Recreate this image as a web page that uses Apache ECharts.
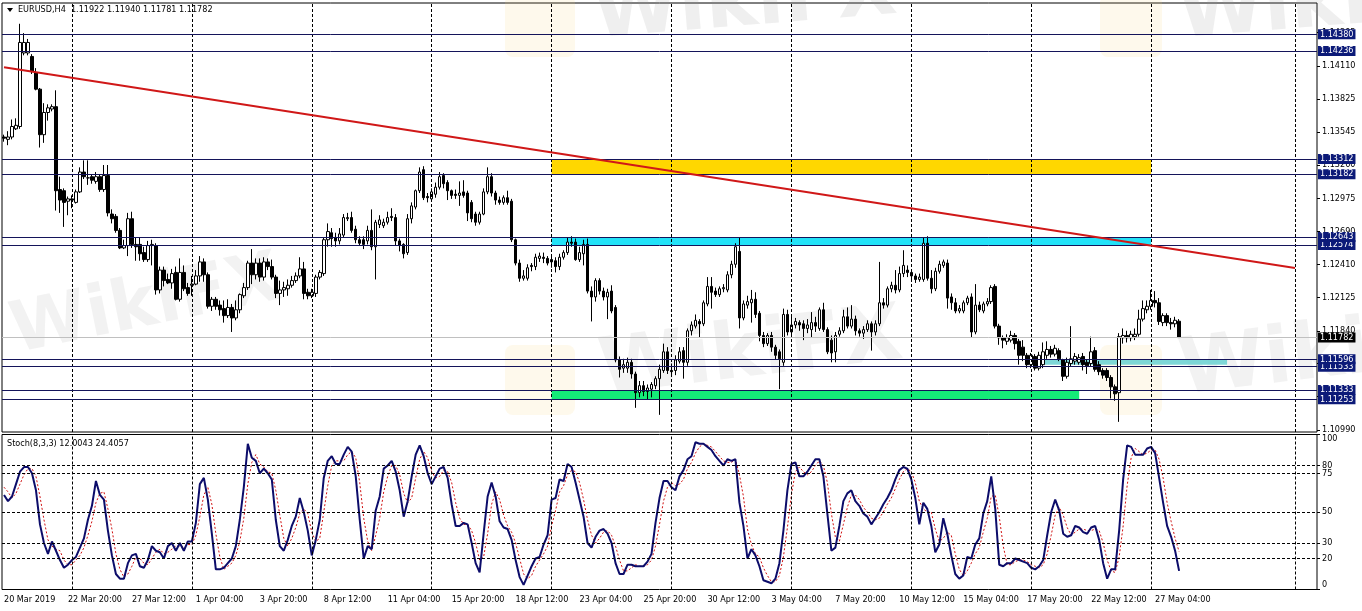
<!DOCTYPE html>
<html><head><meta charset="utf-8">
<script src="https://cdn.jsdelivr.net/npm/echarts@6/dist/echarts.min.js"></script>
<style>html,body{margin:0;padding:0;background:#fff}#c{width:1362px;height:611px}</style>
</head><body><div id="c"></div><script>
const FONT = "'DejaVu Sans Condensed','DejaVu Sans',sans-serif";

// ---------- DATA ----------
const timeLabels = ["20 Mar 2019","22 Mar 20:00","27 Mar 12:00","1 Apr 04:00","3 Apr 20:00","8 Apr 12:00","11 Apr 04:00","15 Apr 20:00","18 Apr 12:00","23 Apr 04:00","25 Apr 20:00","30 Apr 12:00","3 May 04:00","7 May 20:00","10 May 12:00","15 May 04:00","17 May 20:00","22 May 12:00","27 May 04:00"];
const barsPerLabel = 16;
const totalSlots = 329;

const openP = [1.1350,1.1348,1.1350,1.1357,1.1359,1.1422,1.1422,1.1419,1.1405,1.1391,
1.1352,1.1371,1.1374,1.1376,1.1305,1.1304,1.1295,1.1297,1.1294,1.1303,
1.1320,1.1315,1.1316,1.1312,1.1316,1.1305,1.1317,1.1284,1.1282,1.1270,
1.1255,1.1257,1.1280,1.1258,1.1258,1.1251,1.1245,1.1257,1.1257,1.1219,
1.1236,1.1228,1.1225,1.1234,1.1211,1.1234,1.1221,1.1223,1.1224,1.1231,
1.1243,1.1232,1.1205,1.1211,1.1206,1.1203,1.1197,1.1204,1.1195,1.1202,
1.1214,1.1221,1.1242,1.1232,1.1242,1.1230,1.1243,1.1239,1.1230,1.1216,
1.1219,1.1220,1.1223,1.1227,1.1231,1.1237,1.1217,1.1214,1.1216,1.1230,
1.1233,1.1262,1.1268,1.1264,1.1261,1.1266,1.1280,1.1281,1.1271,1.1262,
1.1262,1.1261,1.1270,1.1256,1.1275,1.1274,1.1277,1.1282,1.1281,1.1261,
1.1258,1.1251,1.1280,1.1290,1.1304,1.1322,1.1299,1.1297,1.1301,1.1307,
1.1317,1.1311,1.1304,1.1301,1.1300,1.1303,1.1302,1.1294,1.1284,1.1277,
1.1284,1.1303,1.1316,1.1302,1.1296,1.1294,1.1298,1.1295,1.1262,1.1242,
1.1229,1.1229,1.1240,1.1239,1.1246,1.1247,1.1246,1.1245,1.1244,1.1239,
1.1247,1.1251,1.1260,1.1260,1.1245,1.1250,1.1258,1.1218,1.1213,1.1227,
1.1218,1.1213,1.1218,1.1204,1.1159,1.1152,1.1152,1.1157,1.1147,1.1131,
1.1137,1.1132,1.1134,1.1137,1.1143,1.1150,1.1166,1.1150,1.1150,1.1158,
1.1167,1.1157,1.1184,1.1188,1.1192,1.1190,1.1207,1.1222,1.1218,1.1215,
1.1220,1.1219,1.1232,1.1241,1.1252,1.1195,1.1206,1.1208,1.1211,1.1199,
1.1180,1.1173,1.1180,1.1170,1.1166,1.1157,1.1198,1.1183,1.1189,1.1191,
1.1190,1.1186,1.1185,1.1191,1.1186,1.1202,1.1185,1.1176,1.1166,1.1181,
1.1184,1.1196,1.1188,1.1194,1.1184,1.1182,1.1185,1.1190,1.1183,1.1190,
1.1208,1.1206,1.1220,1.1223,1.1219,1.1233,1.1236,1.1234,1.1231,1.1228,
1.1228,1.1259,1.1229,1.1220,1.1235,1.1240,1.1242,1.1213,1.1208,1.1201,
1.1201,1.1208,1.1213,1.1183,1.1206,1.1201,1.1207,1.1209,1.1222,1.1188,
1.1178,1.1175,1.1176,1.1180,1.1175,1.1170,1.1163,1.1155,1.1162,1.1152,
1.1155,1.1163,1.1168,1.1164,1.1167,1.1159,1.1145,1.1156,1.1158,1.1157,
1.1162,1.1157,1.1156,1.1167,1.1155,1.1150,1.1150,1.1144,1.1136,1.1131,
1.1178,1.1180,1.1178,1.1179,1.1181,1.1194,1.1202,1.1205,1.1210,1.1208,
1.1191,1.1197,1.1191,1.1190,1.11922];

const closeP = [1.1349,1.1350,1.1359,1.1360,1.1431,1.1431,1.1431,1.1406,1.1391,1.1352,
1.1371,1.1375,1.1376,1.1304,1.1296,1.1294,1.1297,1.1296,1.1303,1.1320,
1.1316,1.1315,1.1313,1.1316,1.1305,1.1317,1.1285,1.1280,1.1270,1.1255,
1.1257,1.1280,1.1258,1.1256,1.1250,1.1245,1.1257,1.1258,1.1219,1.1236,
1.1227,1.1225,1.1233,1.1211,1.1234,1.1220,1.1216,1.1224,1.1231,1.1243,
1.1232,1.1205,1.1211,1.1205,1.1202,1.1197,1.1204,1.1195,1.1202,1.1215,
1.1221,1.1242,1.1232,1.1242,1.1230,1.1243,1.1239,1.1230,1.1216,1.1219,
1.1221,1.1223,1.1227,1.1231,1.1237,1.1216,1.1214,1.1217,1.1230,1.1234,
1.1262,1.1269,1.1263,1.1261,1.1267,1.1281,1.1281,1.1270,1.1262,1.1259,
1.1258,1.1270,1.1256,1.1277,1.1279,1.1277,1.1281,1.1281,1.1261,1.1257,
1.1250,1.1280,1.1291,1.1304,1.1320,1.1298,1.1298,1.1303,1.1307,1.1316,
1.1310,1.1304,1.1300,1.1300,1.1302,1.1300,1.1285,1.1280,1.1277,1.1284,
1.1303,1.1316,1.1302,1.1296,1.1294,1.1298,1.1294,1.1262,1.1242,1.1229,
1.1231,1.1238,1.1239,1.1247,1.1248,1.1246,1.1242,1.1243,1.1239,1.1247,
1.1251,1.1260,1.1259,1.1245,1.1251,1.1258,1.1218,1.1213,1.1227,1.1218,
1.1213,1.1217,1.1201,1.1159,1.1151,1.1155,1.1157,1.1147,1.1131,1.1137,
1.1132,1.1135,1.1138,1.1143,1.1151,1.1166,1.1150,1.1149,1.1159,1.1166,
1.1157,1.1184,1.1189,1.1193,1.1190,1.1208,1.1222,1.1217,1.1215,1.1220,
1.1221,1.1232,1.1241,1.1256,1.1195,1.1207,1.1209,1.1211,1.1198,1.1180,
1.1173,1.1180,1.1170,1.1163,1.1160,1.1198,1.1183,1.1189,1.1192,1.1189,
1.1186,1.1189,1.1191,1.1188,1.1202,1.1185,1.1166,1.1165,1.1180,1.1184,
1.1196,1.1188,1.1194,1.1184,1.1182,1.1185,1.1190,1.1183,1.1190,1.1208,
1.1206,1.1220,1.1223,1.1219,1.1233,1.1240,1.1234,1.1231,1.1228,1.1230,
1.1259,1.1229,1.1220,1.1235,1.1241,1.1243,1.1212,1.1208,1.1201,1.1203,
1.1208,1.1212,1.1183,1.1206,1.1202,1.1207,1.1209,1.1221,1.1188,1.1178,
1.1176,1.1178,1.1180,1.1173,1.1163,1.1163,1.1155,1.1163,1.1152,1.1163,
1.1166,1.1168,1.1164,1.1169,1.1160,1.1145,1.1157,1.1160,1.1162,1.1161,
1.1155,1.1154,1.1166,1.1151,1.1149,1.1146,1.1144,1.1136,1.1130,1.1179,
1.1180,1.1178,1.1181,1.1181,1.1194,1.1203,1.1205,1.1210,1.1208,1.1192,
1.1197,1.1191,1.1190,1.1193,1.11782];

const lowP = [1.1346,1.1343,1.1348,1.1356,1.1357,1.1420,1.1420,1.1404,1.1390,1.1341,
1.1345,1.1364,1.1372,1.1287,1.1285,1.1273,1.1283,1.1289,1.1293,1.1302,
1.1314,1.1309,1.1310,1.1310,1.1303,1.1303,1.1282,1.1276,1.1268,1.1254,
1.1254,1.1248,1.1255,1.1244,1.1244,1.1243,1.1243,1.1240,1.1215,1.1216,
1.1222,1.1224,1.1220,1.1210,1.1209,1.1218,1.1214,1.1214,1.1223,1.1226,
1.1226,1.1203,1.1201,1.1202,1.1197,1.1191,1.1195,1.1183,1.1193,1.1199,
1.1212,1.1219,1.1224,1.1228,1.1226,1.1227,1.1236,1.1228,1.1212,1.1206,
1.1213,1.1214,1.1221,1.1225,1.1229,1.1211,1.1211,1.1212,1.1213,1.1228,
1.1231,1.1256,1.1256,1.1256,1.1258,1.1264,1.1278,1.1268,1.1259,1.1257,
1.1254,1.1258,1.1253,1.1228,1.1272,1.1272,1.1275,1.1278,1.1257,1.1252,
1.1246,1.1249,1.1276,1.1288,1.1302,1.1296,1.1294,1.1295,1.1298,1.1305,
1.1306,1.1296,1.1297,1.1297,1.1291,1.1298,1.1278,1.1277,1.1274,1.1275,
1.1283,1.1301,1.1299,1.1292,1.1292,1.1292,1.1292,1.1260,1.1240,1.1226,
1.1227,1.1227,1.1235,1.1236,1.1243,1.1242,1.1240,1.1238,1.1234,1.1236,
1.1245,1.1249,1.1256,1.1244,1.1243,1.1240,1.1216,1.1192,1.1209,1.1215,
1.1210,1.1194,1.1199,1.1157,1.1144,1.1148,1.1148,1.1143,1.1118,1.1127,
1.1128,1.1125,1.1127,1.1134,1.1112,1.1148,1.1147,1.1146,1.1146,1.1156,
1.1143,1.1154,1.1180,1.1186,1.1178,1.1188,1.1205,1.1203,1.1213,1.1213,
1.1217,1.1217,1.1229,1.1238,1.1186,1.1193,1.1203,1.1191,1.1195,1.1175,
1.1170,1.1171,1.1166,1.1159,1.1134,1.1154,1.1180,1.1179,1.1186,1.1184,
1.1176,1.1182,1.1178,1.1183,1.1184,1.1183,1.1164,1.1157,1.1157,1.1179,
1.1182,1.1186,1.1186,1.1180,1.1179,1.1177,1.1183,1.1167,1.1180,1.1188,
1.1203,1.1204,1.1217,1.1216,1.1217,1.1230,1.1230,1.1228,1.1225,1.1226,
1.1226,1.1227,1.1216,1.1218,1.1233,1.1238,1.1203,1.1202,1.1199,1.1199,
1.1199,1.1206,1.1178,1.1181,1.1200,1.1199,1.1205,1.1207,1.1186,1.1172,
1.1169,1.1172,1.1174,1.1168,1.1155,1.1158,1.1152,1.1152,1.1150,1.1150,
1.1152,1.1160,1.1161,1.1162,1.1158,1.1141,1.1143,1.1153,1.1155,1.1155,
1.1150,1.1147,1.1153,1.1149,1.1146,1.1143,1.1141,1.1126,1.1124,1.1106,
1.1173,1.1174,1.1175,1.1176,1.1179,1.1192,1.1199,1.1202,1.1204,1.1189,
1.1188,1.1188,1.1185,1.1187,1.11781];

const highP = [1.1352,1.1355,1.1365,1.1366,1.1447,1.1439,1.1434,1.1421,1.1409,1.1392,
1.1379,1.1378,1.1378,1.1390,1.1316,1.1306,1.1299,1.1300,1.1305,1.1324,
1.1330,1.1330,1.1318,1.1320,1.1318,1.1326,1.1326,1.1288,1.1284,1.1272,
1.1262,1.1285,1.1286,1.1264,1.1264,1.1256,1.1261,1.1262,1.1259,1.1239,
1.1239,1.1233,1.1237,1.1239,1.1246,1.1240,1.1225,1.1231,1.1236,1.1248,
1.1246,1.1234,1.1213,1.1213,1.1210,1.1210,1.1211,1.1207,1.1210,1.1216,
1.1225,1.1244,1.1254,1.1246,1.1246,1.1247,1.1246,1.1245,1.1232,1.1227,
1.1226,1.1228,1.1231,1.1234,1.1247,1.1243,1.1220,1.1220,1.1232,1.1236,
1.1264,1.1276,1.1272,1.1268,1.1272,1.1284,1.1285,1.1286,1.1274,1.1265,
1.1265,1.1274,1.1288,1.1279,1.1283,1.1280,1.1286,1.1289,1.1284,1.1263,
1.1259,1.1284,1.1294,1.1305,1.1324,1.1325,1.1302,1.1306,1.1311,1.1320,
1.1319,1.1313,1.1305,1.1305,1.1312,1.1313,1.1304,1.1296,1.1286,1.1286,
1.1306,1.1324,1.1319,1.1304,1.1299,1.1300,1.1304,1.1297,1.1263,1.1245,
1.1236,1.1241,1.1242,1.1250,1.1251,1.1251,1.1248,1.1248,1.1247,1.1250,
1.1253,1.1264,1.1265,1.1263,1.1256,1.1262,1.1263,1.1222,1.1229,1.1229,
1.1221,1.1220,1.1223,1.1206,1.1162,1.1160,1.1161,1.1160,1.1149,1.1141,
1.1141,1.1138,1.1140,1.1145,1.1155,1.1173,1.1170,1.1156,1.1163,1.1170,
1.1170,1.1186,1.1192,1.1198,1.1194,1.1210,1.1230,1.1230,1.1221,1.1222,
1.1224,1.1235,1.1244,1.1259,1.1264,1.1210,1.1214,1.1219,1.1217,1.1201,
1.1183,1.1182,1.1183,1.1172,1.1168,1.1203,1.1202,1.1196,1.1195,1.1193,
1.1193,1.1194,1.1200,1.1196,1.1204,1.1208,1.1187,1.1180,1.1183,1.1187,
1.1202,1.1204,1.1206,1.1197,1.1186,1.1188,1.1193,1.1192,1.1193,1.1243,
1.1212,1.1222,1.1226,1.1236,1.1239,1.1253,1.1240,1.1236,1.1233,1.1233,
1.1264,1.1265,1.1236,1.1238,1.1244,1.1245,1.1245,1.1216,1.1212,1.1206,
1.1210,1.1214,1.1216,1.1224,1.1209,1.1209,1.1212,1.1223,1.1224,1.1190,
1.1180,1.1181,1.1184,1.1182,1.1177,1.1176,1.1165,1.1165,1.1164,1.1166,
1.1174,1.1175,1.1171,1.1172,1.1169,1.1160,1.1161,1.1188,1.1165,1.1164,
1.1165,1.1159,1.1179,1.1170,1.1158,1.1152,1.1152,1.1146,1.1138,1.1182,
1.1186,1.1184,1.1184,1.1186,1.1202,1.1210,1.1210,1.1219,1.1218,1.1212,
1.1199,1.1199,1.1195,1.1196,1.11940];

const stochK = [61,57,60,68,76,79,79,75,64,42,
30,23,31,25,19,14,16,19,21,27,
33,45,54,70,61,58,38,22,10,7,
7,17,22,23,15,14,19,28,25,24,
20,28,30,25,30,25,31,31,43,68,
72,58,36,13,13,14,17,20,28,45,
66,94,85,83,75,78,75,71,45,28,
25,32,41,47,59,50,38,22,32,45,
72,83,86,81,81,87,92,89,73,45,
20,28,26,51,60,78,80,83,76,64,
47,57,73,87,93,86,75,68,73,78,
79,72,55,41,41,43,42,30,17,11,
36,60,69,60,44,40,39,32,19,8,
3,9,15,20,21,29,35,58,59,71,
70,81,79,69,58,47,30,27,34,38,
39,36,30,17,10,10,16,16,15,15,
15,18,23,43,59,70,70,66,64,73,
77,84,86,95,94,94,92,90,86,83,
80,84,83,84,56,41,20,26,22,15,
6,5,4,7,17,38,64,81,82,73,
73,76,80,84,84,73,49,25,27,41,
57,62,64,57,54,49,47,42,46,50,
55,59,64,71,77,79,78,71,59,42,
56,52,41,24,29,46,36,22,10,7,
9,21,20,29,33,49,57,73,52,16,
15,17,17,20,19,18,17,14,13,15,
19,35,50,58,51,36,34,35,41,40,
37,36,40,41,32,17,7,13,13,38,
71,93,92,87,87,87,91,92,88,72,
56,41,34,25,12.0043];

const stochD = [66,63,59,62,68,74,78,78,73,60,
45,32,28,26,25,19,16,16,19,22,
27,35,44,56,62,63,52,39,23,13,
8,10,15,21,20,17,16,20,24,26,
23,24,26,28,28,27,29,29,35,47,
61,66,55,36,21,13,15,17,22,31,
46,68,82,87,81,79,76,75,64,48,
33,28,33,40,49,52,49,37,31,33,
50,67,80,83,83,83,87,89,85,69,
46,31,25,35,46,63,73,80,80,74,
62,56,59,72,84,89,85,76,72,73,
77,76,69,56,46,42,42,38,30,19,
21,36,55,63,58,48,41,37,30,20,
10,7,9,15,19,23,28,41,51,63,
67,74,77,76,69,58,45,35,30,33,
37,38,35,28,19,12,12,14,16,15,
15,16,19,28,42,57,66,69,67,68,
71,78,82,88,92,94,93,92,89,86,
83,82,82,84,74,60,39,29,23,21,
14,9,5,5,9,21,40,61,76,79,
76,74,76,80,83,80,69,49,34,31,
42,53,61,61,58,53,50,46,45,46,
50,55,59,65,71,76,78,76,69,57,
52,50,50,39,31,33,37,35,23,13,
9,12,17,23,27,37,46,60,61,47,
28,16,16,18,19,19,18,16,15,14,
16,23,35,48,53,48,40,35,37,39,
39,38,38,39,38,30,19,12,11,21,
41,67,85,91,89,87,88,90,90,84,
72,56,44,33,24.4057];

const priceTicks = [1.10990,1.11275,1.11560,1.11840,1.12125,1.12410,1.12690,1.12975,1.13260,1.13545,1.13825,1.14110,1.14395];
const stochTicks = [0,20,30,50,75,80,100];
const stochLevels = [20,30,50,75,80];
// drawn in this order (later on top)
const levelPrices = [1.14380,1.14236,1.13312,1.13182,1.12574,1.12643,1.11533,1.11596,1.11253,1.11333];
const lastPrice = 1.11782;
const weekBars = [17,47,77,107,137,167,197,227,257,287,323];
const trendLine = [[0,1.14098],[323,1.12378]];
const yellowZone = [[137,1.13312],[287,1.13182]];
const cyanZone = [[137,1.12643],[287,1.12574]];
const greenZone = [[137,1.11333],[269,1.11253]];
const tealZone = [[257,1.11596],[306,1.11550]];
const priceMin = 1.10973, priceMax = 1.14648;

// ---------- CHART ----------
const slots = Array.from({length: totalSlots}, (_, i) => String(i));
const candles = openP.map((o, i) => [o, closeP[i], lowP[i], highP[i]]);
const chart = echarts.init(document.getElementById('c'), null, {renderer: 'canvas'});

const dash = {color: '#000', width: 1, type: [3, 2]};
const zoneArea = (z, color, opacity) => ({
  silent: true,
  itemStyle: {color: color, opacity: opacity},
  data: [[{xAxis: z[0][0], yAxis: z[0][1]}, {xAxis: z[1][0], yAxis: z[1][1]}]]
});
const lvlLabel = (bg) => ({
  show: true, position: 'end', distance: 1,
  formatter: p => Number(p.value).toFixed(5),
  backgroundColor: bg, color: '#fff', padding: [1, 2, 0, 2],
  fontSize: 9, lineHeight: 9, fontFamily: FONT
});

const wm = (txt, x, y, size, rot, op) => ({
  type: 'text', x: x, y: y, rotation: rot, z: 0, silent: true,
  style: {text: txt, fill: 'rgba(150,150,150,' + op + ')', font: 'bold ' + size + 'px "DejaVu Sans"'}
});

const option = {
  animation: false,
  backgroundColor: '#fff',
  grid: [
    {left: 2, top: 3, width: 1315, height: 429, show: true, borderColor: '#000', borderWidth: 1, backgroundColor: 'transparent'},
    {left: 2, top: 434.5, width: 1315, height: 155, show: true, borderColor: '#000', borderWidth: 1, backgroundColor: 'transparent'}
  ],
  xAxis: [
    {type: 'category', gridIndex: 0, data: slots, boundaryGap: true,
     axisLine: {show: false}, axisTick: {show: false}, axisLabel: {show: false}, splitLine: {show: false}},
    {type: 'category', gridIndex: 1, data: slots, boundaryGap: true,
     axisLine: {show: false}, axisTick: {show: false}, splitLine: {show: false},
     axisLabel: {show: true, interval: (i) => i % barsPerLabel === 0 && i / barsPerLabel < timeLabels.length,
       formatter: (v, i) => timeLabels[Math.round(Number(v) / barsPerLabel)] || '',
       align: 'left', margin: 6, fontSize: 9, color: '#000', fontFamily: FONT}}
  ],
  yAxis: [
    {type: 'value', gridIndex: 0, position: 'right', min: priceMin, max: priceMax,
     axisLine: {show: false}, splitLine: {show: false},
     axisTick: {show: true, customValues: priceTicks, length: 3, lineStyle: {color: '#000'}},
     axisLabel: {customValues: priceTicks, formatter: v => v.toFixed(5), fontSize: 9, margin: 5, color: '#000', fontFamily: FONT}},
    {type: 'value', gridIndex: 1, position: 'right', min: 0, max: 100,
     axisLine: {show: false}, splitLine: {show: false},
     axisTick: {show: true, customValues: stochTicks, length: 3, lineStyle: {color: '#000'}},
     axisLabel: {customValues: stochTicks, fontSize: 9, margin: 5, color: '#000', fontFamily: FONT,
       verticalAlignMaxLabel: 'top', verticalAlignMinLabel: 'bottom'}}
  ],
  graphic: [
    wm('WikiFX', 590, -22, 78, 0.08, 0.15),
    wm('WikiFX', 1175, -22, 78, 0.08, 0.15),
    wm('WikiFX', 5, 300, 70, 0.2, 0.12),
    wm('WikiFX', 595, 335, 78, 0.12, 0.12),
    wm('WikiFX', 1175, 335, 78, 0.12, 0.12),
    {type: 'rect', shape: {x: 505, y: -5, width: 70, height: 62, r: 8}, z: 0, silent: true, style: {fill: 'rgba(250,215,120,0.14)'}},
    {type: 'rect', shape: {x: 1100, y: -5, width: 62, height: 62, r: 8}, z: 0, silent: true, style: {fill: 'rgba(250,215,120,0.14)'}},
    {type: 'rect', shape: {x: 505, y: 345, width: 70, height: 70, r: 8}, z: 0, silent: true, style: {fill: 'rgba(250,215,120,0.14)'}},
    {type: 'rect', shape: {x: 1100, y: 345, width: 62, height: 70, r: 8}, z: 0, silent: true, style: {fill: 'rgba(250,215,120,0.14)'}},
    {type: 'polygon', shape: {points: [[7, 8], [13, 8], [10, 12]]}, z: 10, style: {fill: '#000'}},
    {type: 'text', x: 18, y: 5, z: 10, style: {text: 'EURUSD,H4  1.11922 1.11940 1.11781 1.11782', fill: '#000', font: '9px ' + FONT}},
    {type: 'text', x: 7, y: 439, z: 10, style: {text: 'Stoch(8,3,3) 12.0043 24.4057', fill: '#000', font: '9px ' + FONT}}
  ],
  series: [
    // vertical week separators, main panel
    {type: 'line', xAxisIndex: 0, yAxisIndex: 0, data: [], z: 1, silent: true,
     markLine: {silent: true, symbol: ['none', 'none'], label: {show: false}, lineStyle: dash,
       data: weekBars.map(b => ({xAxis: b}))}},
    // zones
    {type: 'line', xAxisIndex: 0, yAxisIndex: 0, data: [], z: 1, silent: true,
     markArea: zoneArea(yellowZone, '#ffd700', 1)},
    {type: 'line', xAxisIndex: 0, yAxisIndex: 0, data: [], z: 1, silent: true,
     markArea: zoneArea(cyanZone, '#22e2f8', 1)},
    {type: 'line', xAxisIndex: 0, yAxisIndex: 0, data: [], z: 1, silent: true,
     markArea: zoneArea(greenZone, '#14ec78', 1)},
    {type: 'line', xAxisIndex: 0, yAxisIndex: 0, data: [], z: 1, silent: true,
     markArea: zoneArea(tealZone, '#6fd3d3', 0.9)},
    // level lines
    {type: 'line', xAxisIndex: 0, yAxisIndex: 0, data: [], z: 2, silent: true,
     markLine: {silent: true, symbol: ['none', 'none'], precision: 5,
       data: [{yAxis: lastPrice, lineStyle: {color: '#c0c0c0', width: 1, type: 'solid'}, label: lvlLabel('#000')}]
         .concat(levelPrices.map(v => ({yAxis: v, lineStyle: {color: '#14145a', width: 1, type: 'solid'}, label: lvlLabel('#0c1a78')})))}},
    // candles
    {type: 'candlestick', xAxisIndex: 0, yAxisIndex: 0, data: candles, barWidth: 3, z: 3,
     itemStyle: {color: '#fff', color0: '#000', borderColor: '#000', borderColor0: '#000', borderWidth: 1}},
    // trend line
    {type: 'line', xAxisIndex: 0, yAxisIndex: 0, data: [], z: 4, silent: true,
     markLine: {silent: true, symbol: ['none', 'none'], label: {show: false}, precision: 5,
       lineStyle: {color: '#d01818', width: 2, type: 'solid'},
       data: [[{coord: trendLine[0]}, {coord: trendLine[1]}]]}},
    // stoch grid lines
    {type: 'line', xAxisIndex: 1, yAxisIndex: 1, data: [], z: 1, silent: true,
     markLine: {silent: true, symbol: ['none', 'none'], label: {show: false}, lineStyle: dash,
       data: weekBars.map(b => ({xAxis: b})).concat(stochLevels.map(v => ({yAxis: v})))}},
    // %D
    {type: 'line', xAxisIndex: 1, yAxisIndex: 1, data: stochD, z: 2, symbol: 'none', silent: true,
     lineStyle: {color: '#d01010', width: 1, type: [2, 2]}},
    // %K
    {type: 'line', xAxisIndex: 1, yAxisIndex: 1, data: stochK, z: 3, symbol: 'none', silent: true,
     lineStyle: {color: '#0c0c6a', width: 2}}
  ]
};
chart.setOption(option);
</script></body></html>
